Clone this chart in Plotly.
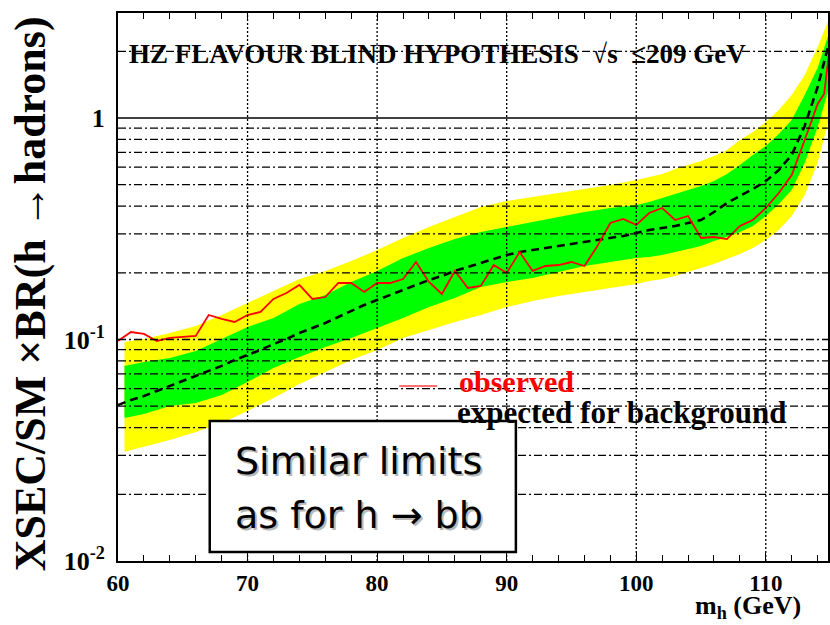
import plotly.graph_objects as go

# ---------------- data ----------------
mh_exp = list(range(60, 116))
expected = [0.0506, 0.0533, 0.0556, 0.0586, 0.0617, 0.0650, 0.0684, 0.0721, 0.0760, 0.0808,
            0.0851, 0.0897, 0.0954, 0.1005, 0.107, 0.1127, 0.1187, 0.1264, 0.1345, 0.1431,
            0.1508, 0.1589, 0.1674, 0.1762, 0.1856, 0.1935, 0.2039, 0.2125, 0.2215, 0.2309,
            0.2407, 0.2483, 0.2535, 0.2588, 0.2643, 0.2698, 0.2755, 0.2813, 0.2872, 0.2933,
            0.3026, 0.3121, 0.3188, 0.3254, 0.3357, 0.3463, 0.3763, 0.4133, 0.4444, 0.4781,
            0.5195, 0.5823, 0.6808, 0.9202, 1.380, 2.321]

mh_obs = list(range(60, 115)) + [114.5, 115]
observed = [0.0985, 0.1081, 0.1059, 0.0985, 0.1016, 0.1026, 0.1037, 0.1290, 0.1238, 0.1200,
            0.1290, 0.1331, 0.1524, 0.1622, 0.1762, 0.1524, 0.1555, 0.1799, 0.1799, 0.1639,
            0.1799, 0.1799, 0.1875, 0.2238, 0.1818, 0.1605, 0.2039, 0.1709, 0.1745, 0.2169,
            0.1997, 0.2483, 0.2039, 0.2147, 0.2169, 0.2238, 0.2147, 0.2643, 0.3357, 0.3500,
            0.3288, 0.3724, 0.3924, 0.3463, 0.3610, 0.2872, 0.2902, 0.2842, 0.3254, 0.3463,
            0.3924, 0.4585, 0.5529, 0.7956, 1.157, 1.283, 2.250]

mh_band = [60.5, 62, 64, 66, 68, 70, 72, 74, 76, 78, 80, 82, 84, 86, 88, 90, 92, 94, 96, 98,
           100, 101, 102, 103, 104, 105, 106, 107, 108, 109, 110, 111, 112, 113, 114, 115]
yellow_hi = [0.0974, 0.1005, 0.1070, 0.1150, 0.1290, 0.1462, 0.1656, 0.1875, 0.2039, 0.2262,
             0.2535, 0.2872, 0.3220, 0.3573, 0.3964, 0.4219, 0.4398, 0.4585, 0.4781, 0.4983,
             0.5250, 0.5416, 0.5587, 0.5884, 0.6135, 0.6396, 0.6737, 0.7171, 0.7956, 0.8645,
             0.9592, 1.087, 1.270, 1.564, 2.092, 2.917]
green_hi = [0.0760, 0.0792, 0.0825, 0.0887, 0.1005, 0.1139, 0.1251, 0.1446, 0.1589, 0.1818,
            0.2039, 0.2333, 0.2588, 0.2842, 0.3057, 0.3220, 0.3391, 0.3573, 0.3763, 0.3924,
            0.4048, 0.4176, 0.4352, 0.4537, 0.4731, 0.4932, 0.5195, 0.5587, 0.6135, 0.6808,
            0.7471, 0.8468, 0.9794, 1.270, 1.682, 2.549]
green_lo = [0.0442, 0.0461, 0.0501, 0.0517, 0.0562, 0.0643, 0.0744, 0.0834, 0.0925, 0.1016,
            0.1127, 0.1251, 0.1402, 0.1539, 0.1726, 0.1818, 0.1895, 0.2017, 0.2147, 0.2238,
            0.2333, 0.2357, 0.2407, 0.2483, 0.2562, 0.2643, 0.2784, 0.2902, 0.3057, 0.3254,
            0.3610, 0.4090, 0.4731, 0.6264, 0.9107, 1.439]
yellow_lo = [0.0311, 0.0327, 0.0352, 0.0382, 0.0420, 0.0476, 0.0544, 0.0630, 0.0713, 0.0808,
             0.0897, 0.1016, 0.1104, 0.1200, 0.1290, 0.1402, 0.1492, 0.1572, 0.1639, 0.1709,
             0.1780, 0.1836, 0.1875, 0.1935, 0.2017, 0.2103, 0.2193, 0.2309, 0.2432, 0.2588,
             0.2813, 0.3121, 0.3610, 0.4491, 0.6264, 1.053]

x_ticks = [60, 70, 80, 90, 100, 110]
x_grid = [70, 80, 90, 100, 110]
y_ticks = [0.01, 0.1, 1]
y_ticktext = ["10<sup>-2</sup>", "10<sup>-1</sup>", "1"]
y_grid = [0.02, 0.03, 0.04, 0.05, 0.06, 0.07, 0.08, 0.09, 0.1,
          0.2, 0.3, 0.4, 0.5, 0.6, 0.7, 0.8, 0.9, 2, 3]

header = "HZ FLAVOUR BLIND HYPOTHESIS  √s  ≤209 GeV"
ytitle = "XSEC/SM ×BR(h →hadrons)"
xtitle = "m<sub>h</sub> (GeV)"
leg_obs = "observed"
leg_exp = "expected for background"
box_lines = ["Similar limits", "as for h → bb"]

# ---------------- layout geometry (pixels) ----------------
W, H = 830, 625
L, T, R, B = 118, 13, 830, 561


def xp(px):
    return (px - L) / (R - L)


def yp(py):
    return (B - py) / (B - T)


SERIF = "Liberation Serif, Times New Roman, serif"
SANS = "DejaVu Sans, Verdana, sans-serif"
DASHDOT = "8px,3px,2px,3px"

fig = go.Figure()

fig.add_trace(go.Scatter(
    x=mh_band + mh_band[::-1], y=yellow_lo + yellow_hi[::-1],
    fill="toself", fillcolor="#FFFF00", line=dict(width=0), mode="lines",
    hoverinfo="skip", showlegend=False))
fig.add_trace(go.Scatter(
    x=mh_band + mh_band[::-1], y=green_lo + green_hi[::-1],
    fill="toself", fillcolor="#00FF00", line=dict(width=0), mode="lines",
    hoverinfo="skip", showlegend=False))
fig.add_trace(go.Scatter(
    x=mh_exp, y=expected, mode="lines",
    line=dict(color="black", width=2.6, dash="8px,5px"), showlegend=False))
fig.add_trace(go.Scatter(
    x=mh_obs, y=observed, mode="lines",
    line=dict(color="#FF0000", width=1.8), showlegend=False))

shapes = []
# grid drawn on top of the bands, as in the reference
for v in y_grid:
    shapes.append(dict(type="line", xref="paper", yref="y", x0=0, x1=1, y0=v, y1=v,
                       line=dict(color="black", width=1.3, dash=DASHDOT), layer="above"))
shapes.append(dict(type="line", xref="paper", yref="y", x0=0, x1=1, y0=1, y1=1,
                   line=dict(color="black", width=1.3), layer="above"))
for v in x_grid:
    shapes.append(dict(type="line", xref="x", yref="paper", x0=v, x1=v, y0=0, y1=1,
                       line=dict(color="black", width=1.3, dash="2px,2px"), layer="above"))
shapes += [
    dict(type="line", xref="paper", yref="paper", x0=xp(400), x1=xp(438),
         y0=yp(386), y1=yp(386), line=dict(color="#FF4040", width=1.5)),
    dict(type="rect", xref="paper", yref="paper", x0=xp(210), x1=xp(517),
         y0=yp(552), y1=yp(421), fillcolor="white",
         line=dict(color="black", width=2.5)),
]

ann = [
    dict(text=header, x=xp(127), y=yp(54), xanchor="left", yanchor="middle",
         font=dict(family=SERIF, size=27, color="black", weight="bold")),
    dict(text=leg_obs, x=xp(458), y=yp(381), xanchor="left", yanchor="middle",
         font=dict(family=SERIF, size=30, color="#FF0000", weight="bold")),
    dict(text=leg_exp, x=xp(456), y=yp(412), xanchor="left", yanchor="middle",
         font=dict(family=SERIF, size=31, color="black", weight="bold")),
    dict(text=xtitle, x=xp(695), y=yp(607), xanchor="left", yanchor="middle",
         font=dict(family=SERIF, size=26, color="black", weight="bold")),
    dict(text=ytitle, x=xp(30), y=yp(294), xanchor="center", yanchor="middle",
         textangle=-90,
         font=dict(family=SERIF, size=44, color="black", weight="bold")),
]
for line, cy in zip(box_lines, [461, 515]):
    ann.append(dict(text=line, x=xp(233 + 2), y=yp(cy + 2), xanchor="left",
                    yanchor="middle", font=dict(family=SANS, size=38, color="#b8b8b8")))
    ann.append(dict(text=line, x=xp(233), y=yp(cy), xanchor="left",
                    yanchor="middle", font=dict(family=SANS, size=38, color="black")))
for a in ann:
    a.update(xref="paper", yref="paper", showarrow=False)

fig.update_layout(
    width=W, height=H,
    margin=dict(l=L, r=W - R, t=T, b=H - B, pad=0),
    paper_bgcolor="white", plot_bgcolor="white",
    shapes=shapes, annotations=ann, showlegend=False,
    xaxis=dict(
        range=[60, 114.8], tickmode="array", tickvals=x_ticks,
        ticks="inside", ticklen=8, tickwidth=1, tickcolor="black",
        showline=True, linecolor="black", linewidth=2, mirror="ticks",
        showgrid=False, zeroline=False, ticklabelstandoff=0,
        minor=dict(dtick=2, ticks="inside", ticklen=6, tickcolor="black", showgrid=False),
        tickfont=dict(family=SERIF, size=23, color="black", weight="bold"),
    ),
    yaxis=dict(
        type="log", range=[-2, 0.474], tickmode="array", tickvals=y_ticks,
        ticktext=y_ticktext, ticks="", ticklabelstandoff=6,
        showline=True, linecolor="black", linewidth=2, mirror=True,
        showgrid=False, zeroline=False,
        tickfont=dict(family=SERIF, size=26, color="black", weight="bold"),
    ),
)

fig.write_html("out.html")
